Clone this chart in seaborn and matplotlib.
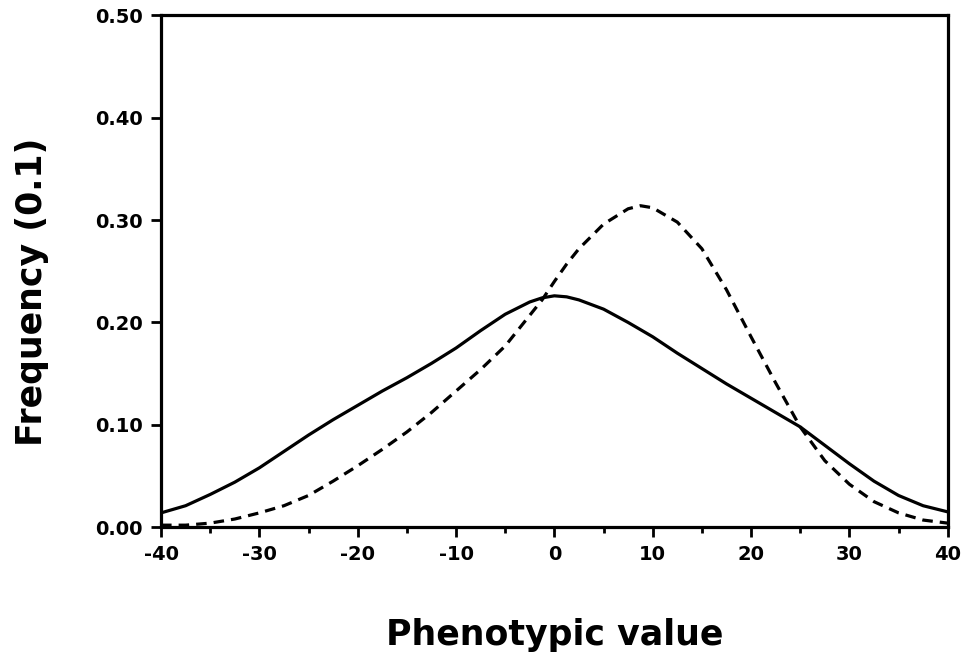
import numpy as np
import pandas as pd
import matplotlib
matplotlib.use("Agg")
import matplotlib.pyplot as plt
import seaborn as sns
from matplotlib.ticker import MultipleLocator

phenotype = [-40, -37.5, -35, -32.5, -30, -27.5, -25, -22.5, -20, -17.5, -15, -12.5,
             -10, -7.5, -5, -2.5, -1.25, 0, 1.25, 2.5, 5, 7.5, 8.75, 10, 12.5, 15,
             17.5, 20, 22.5, 25, 27.5, 30, 32.5, 35, 37.5, 40]
solid_freq = [0.014, 0.021, 0.032, 0.044, 0.058, 0.074, 0.090, 0.105, 0.119, 0.133,
              0.146, 0.160, 0.175, 0.192, 0.208, 0.220, 0.224, 0.226, 0.225, 0.222,
              0.213, 0.200, 0.193, 0.186, 0.170, 0.155, 0.140, 0.126, 0.112, 0.098,
              0.080, 0.062, 0.045, 0.031, 0.021, 0.015]
dashed_freq = [0.002, 0.002, 0.004, 0.008, 0.014, 0.021, 0.031, 0.045, 0.060, 0.076,
               0.093, 0.112, 0.133, 0.154, 0.177, 0.207, 0.222, 0.240, 0.257, 0.272,
               0.296, 0.311, 0.314, 0.312, 0.298, 0.272, 0.232, 0.186, 0.141, 0.098,
               0.065, 0.042, 0.025, 0.014, 0.007, 0.004]
x_ticks = [-40, -30, -20, -10, 0, 10, 20, 30, 40]
y_ticks = [0.0, 0.1, 0.2, 0.3, 0.4, 0.5]

df = pd.DataFrame({
    "x": phenotype * 2,
    "y": solid_freq + dashed_freq,
    "series": ["solid"] * len(phenotype) + ["dashed"] * len(phenotype),
})

sns.set_theme(style="ticks")
plt.rcParams["font.family"] = ["DejaVu Sans"]
plt.rcParams["font.weight"] = "bold"
plt.rcParams["text.color"] = "black"
plt.rcParams["axes.labelcolor"] = "black"

fig = plt.figure(figsize=(9.76, 6.64), dpi=100)
ax = fig.add_axes([0.165, 0.206, 0.806, 0.771])

sns.lineplot(data=df, x="x", y="y", style="series", ax=ax, color="black",
             linewidth=2.3, legend=False,
             dashes={"solid": "", "dashed": (3.3, 2.2)},
             solid_joinstyle="round", solid_capstyle="round")

ax.set_xlim(-40, 40)
ax.set_ylim(0, 0.5)
ax.set_xticks(x_ticks)
ax.set_xticklabels([str(v) for v in x_ticks])
ax.xaxis.set_minor_locator(MultipleLocator(5))
ax.set_yticks(y_ticks)
ax.set_yticklabels([f"{v:.2f}" for v in y_ticks])

for s in ax.spines.values():
    s.set_linewidth(2.3)
    s.set_color("black")

ax.tick_params(axis="both", which="major", direction="out", length=7, width=2,
               labelsize=14, color="black", labelcolor="black", pad=6)
ax.tick_params(axis="x", which="minor", direction="out", length=4, width=2,
               color="black")
for lab in ax.get_xticklabels() + ax.get_yticklabels():
    lab.set_fontweight("bold")

ax.set_xlabel("Phenotypic value", fontsize=25, fontweight="bold", color="black")
ax.set_ylabel("Frequency (0.1)", fontsize=25, fontweight="bold", color="black")
ax.xaxis.set_label_coords(0.5, -0.178)
ax.yaxis.set_label_coords(-0.143, 0.46)

fig.savefig("out.png", dpi=100, facecolor="white")
